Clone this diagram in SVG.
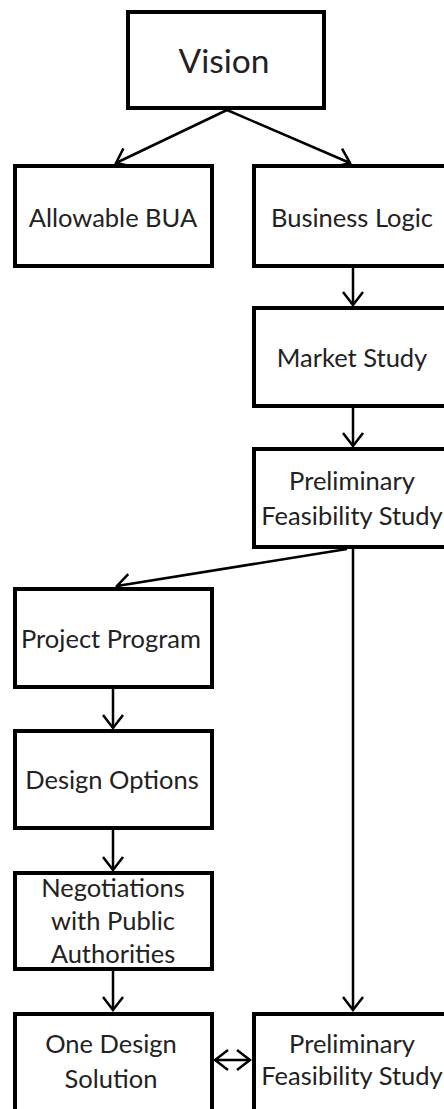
<svg xmlns="http://www.w3.org/2000/svg" width="444" height="1109" viewBox="0 0 444 1109">
<style>
.box{fill:#fff;stroke:#000;stroke-width:4}
.t{font-family:Lato,"Open Sans",sans-serif;font-size:25.5px;fill:#222;text-anchor:middle}
.big{font-size:33.5px}
.c{fill:none;stroke:#000;stroke-width:2.5}
</style>
<defs>
<marker id="a" viewBox="0 0 16 22" refX="14" refY="11" markerWidth="16" markerHeight="22" markerUnits="userSpaceOnUse" orient="auto-start-reverse">
<path d="M1,1 L14,11 L1,21" fill="none" stroke="#000" stroke-width="2.5"/>
</marker>
</defs>
<rect width="444" height="1109" fill="#fff"/>
<g id="connectors">
<line class="c" x1="227" y1="110" x2="116" y2="163" marker-end="url(#a)"/>
<line class="c" x1="227" y1="110" x2="350" y2="163" marker-end="url(#a)"/>
<line class="c" x1="353" y1="268" x2="353" y2="305" marker-end="url(#a)"/>
<line class="c" x1="353" y1="408" x2="353" y2="446" marker-end="url(#a)"/>
<line class="c" x1="347" y1="549" x2="117" y2="586" marker-end="url(#a)"/>
<line class="c" x1="353" y1="549" x2="353" y2="1010" marker-end="url(#a)"/>
<line class="c" x1="113" y1="689" x2="113" y2="728" marker-end="url(#a)"/>
<line class="c" x1="113" y1="830" x2="113" y2="870" marker-end="url(#a)"/>
<line class="c" x1="113" y1="971" x2="113" y2="1010" marker-end="url(#a)"/>
<line class="c" x1="215" y1="1060" x2="250" y2="1060" marker-start="url(#a)" marker-end="url(#a)"/>
</g>
<g id="vision"><rect class="box" x="128" y="12" width="196" height="96"/><text class="t big" x="224" y="73">Vision</text></g>
<g id="allowable"><rect class="box" x="15" y="166" width="197" height="100"/><text class="t" x="113" y="227">Allowable BUA</text></g>
<g id="business"><rect class="box" x="254" y="166" width="200" height="100"/><text class="t" x="352" y="227">Business Logic</text></g>
<g id="market"><rect class="box" x="254" y="308" width="200" height="98"/><text class="t" x="352" y="367">Market Study</text></g>
<g id="pfs1"><rect class="box" x="254" y="449" width="200" height="98"/><text class="t" x="352" y="490">Preliminary</text><text class="t" x="352" y="525">Feasibility Study</text></g>
<g id="program"><rect class="box" x="15" y="589" width="197" height="98"/><text class="t" x="111" y="648">Project Program</text></g>
<g id="options"><rect class="box" x="15" y="731" width="197" height="97"/><text class="t" x="112" y="789">Design Options</text></g>
<g id="negotiations"><rect class="box" x="15" y="873" width="197" height="96"/><text class="t" x="113" y="897">Negotiations</text><text class="t" x="113" y="930">with Public</text><text class="t" x="113" y="963">Authorities</text></g>
<g id="onedesign"><rect class="box" x="15" y="1014" width="197" height="110"/><text class="t" x="111" y="1053">One Design</text><text class="t" x="111" y="1088">Solution</text></g>
<g id="pfs2"><rect class="box" x="254" y="1014" width="200" height="110"/><text class="t" x="352" y="1053">Preliminary</text><text class="t" x="352" y="1085">Feasibility Study</text></g>
</svg>
